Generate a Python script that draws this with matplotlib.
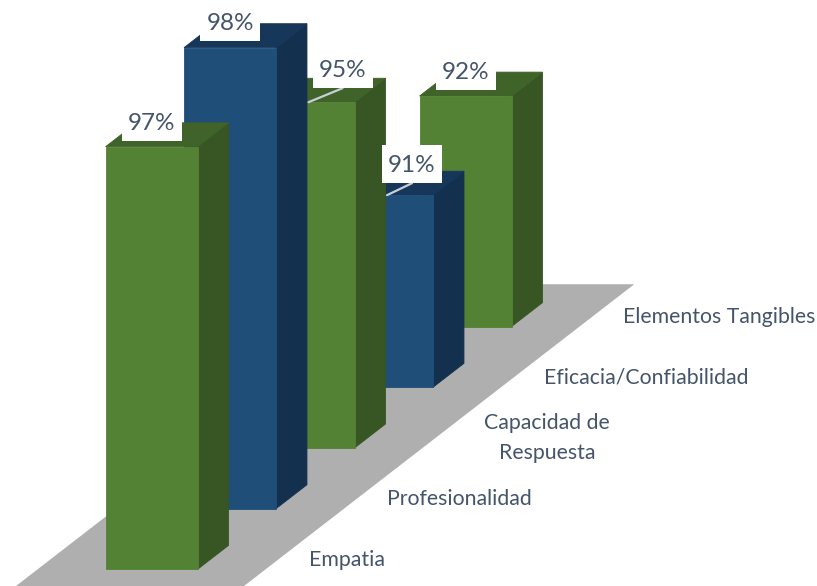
import matplotlib
matplotlib.use('Agg')
import matplotlib.pyplot as plt
from matplotlib.patches import Polygon, Rectangle

categorias = ['Empatia', 'Profesionalidad', 'Capacidad de\nRespuesta', 'Eficacia/Confiabilidad', 'Elementos Tangibles']
valores = [97, 98, 95, 91, 92]
base_valor = 86
tipo_barra = ['verde', 'azul', 'verde', 'azul', 'verde']

# colores: frente, lado, tapa
colores = {
    'verde': ('#548235', '#375623', '#3F6328'),
    'azul': ('#1F4E79', '#14304F', '#16375A'),
}
color_piso = '#AFAFAF'
color_texto = '#44546A'
color_guia = '#C9CFD6'

# oblique projection, pixels of the image
origen_x, origen_y = 121, 557.4
paso_x, paso_y = 78.5, 60.7
px_por_punto = 38.42
ancho_barra = 92
medio_fondo = 0.197

# label layout, offset from the middle of the bar's front top edge
etiqueta_dx = [0, 0, 34, 25, 0]
etiqueta_dy = [-25, -26, -33, -31, -25]
guia = [False, False, True, True, False]
caja_w, caja_h = 60, 38
cat_x = 188
cat_ajuste = [0, 0, 18, 0, 0]
cat_dy = 2.2


def proyectar(w, c, v=base_valor):
    x = origen_x + paso_x * c + w
    y = origen_y - paso_y * c - (v - base_valor) * px_por_punto
    return x, y


fig = plt.figure(figsize=(8.17, 5.86), dpi=100)
ax = fig.add_axes([0, 0, 1, 1])
ax.set_xlim(0, 817)
ax.set_ylim(586, 0)
ax.axis('off')

# piso
piso = [proyectar(-68, -0.5), proyectar(160, -0.5), proyectar(160, 4.5), proyectar(-68, 4.5)]
ax.add_patch(Polygon(piso, closed=True, fc=color_piso, ec='none', zorder=1))

# back to front so nearer bars cover the others
for i in range(len(valores) - 1, -1, -1):
    v = valores[i]
    frente, lado, tapa = colores[tipo_barra[i]]
    c0, c1 = i - medio_fondo, i + medio_fondo
    z = 10 + (len(valores) - i)
    caras = [
        ([proyectar(ancho_barra, c0), proyectar(ancho_barra, c1),
          proyectar(ancho_barra, c1, v), proyectar(ancho_barra, c0, v)], lado),
        ([proyectar(0, c0, v), proyectar(ancho_barra, c0, v),
          proyectar(ancho_barra, c1, v), proyectar(0, c1, v)], tapa),
        ([proyectar(0, c0), proyectar(ancho_barra, c0),
          proyectar(ancho_barra, c0, v), proyectar(0, c0, v)], frente),
    ]
    for puntos, color in caras:
        ax.add_patch(Polygon(puntos, closed=True, fc=color, ec=color, lw=0.6, zorder=z))

# etiquetas de datos
for i, v in enumerate(valores):
    bx, by = proyectar(ancho_barra / 2, i - medio_fondo, v)
    tx, ty = bx + etiqueta_dx[i], by + etiqueta_dy[i]
    if guia[i]:
        ax.plot([bx, tx], [by, ty + caja_h / 2], color=color_guia, lw=1.6, zorder=30, solid_capstyle='round')
    ax.add_patch(Rectangle((tx - caja_w / 2, ty - caja_h / 2), caja_w, caja_h, fc='white', ec='none', zorder=31))
    ax.text(tx, ty + 1.5, f'{v}%', ha='center', va='center', fontsize=17.5, family='Lato',
            color=color_texto, zorder=32)

# categorias
for i, cat in enumerate(categorias):
    x, y = proyectar(cat_x + cat_ajuste[i], i)
    ax.text(x, y + cat_dy, cat, ha='left', va='center', ma='center', fontsize=15.3, family='Lato',
            color=color_texto, linespacing=1.6, zorder=5)

fig.savefig('out.png', dpi=100)
